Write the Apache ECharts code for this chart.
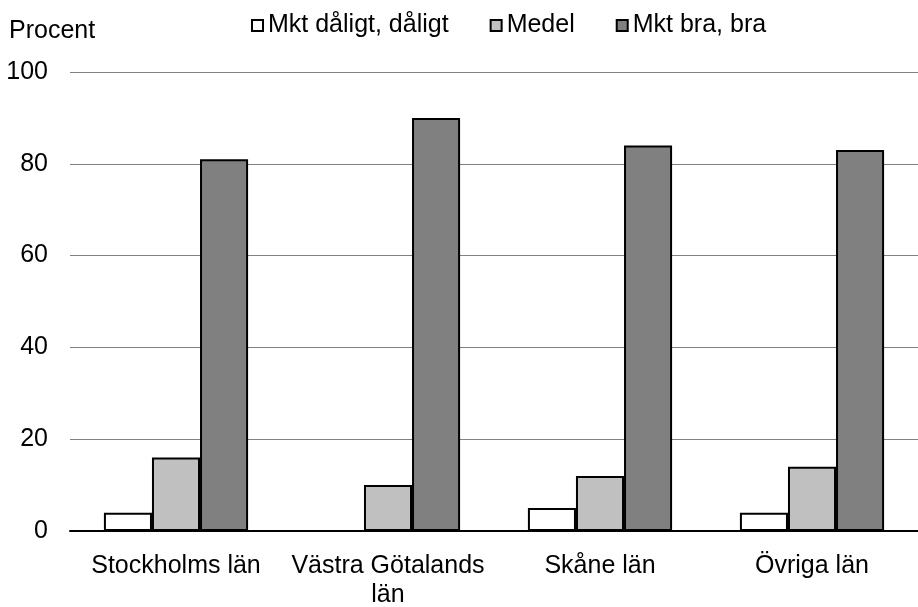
<!DOCTYPE html>
<html>
<head>
<meta charset="utf-8">
<script src="https://cdn.jsdelivr.net/npm/echarts@6/dist/echarts.min.js"></script>
<style>html,body{margin:0;padding:0;background:#fff;}#c{width:918px;height:607px;}</style>
</head>
<body>
<div id="c"></div>
<script>
var categories = ['Stockholms län', 'Västra Götalands län', 'Skåne län', 'Övriga län'];
var seriesNames = ['Mkt dåligt, dåligt', 'Medel', 'Mkt bra, bra'];
var daligt = [4, 0, 5, 4];
var medel = [16, 10, 12, 14];
var bra = [81, 90, 84, 83];
var yTicks = [0, 20, 40, 60, 80, 100];

var FONT = 'Liberation Sans, Arial, sans-serif';
var colors = ['#ffffff', '#c0c0c0', '#808080'];
var values = [daligt, medel, bra];

var chart = echarts.init(document.getElementById('c'), null, {renderer: 'canvas'});
chart.setOption({
  animation: false,
  backgroundColor: '#ffffff',
  title: {
    text: 'Procent', left: 4, top: 14,
    textStyle: {fontFamily: FONT, fontSize: 25, fontWeight: 'normal', color: '#000'}
  },
  legend: {
    left: 246, top: 8,
    itemWidth: 11, itemHeight: 11, itemGap: 41,
    icon: 'rect',
    textStyle: {fontFamily: FONT, fontSize: 25, color: '#000'},
    data: seriesNames
  },
  grid: {left: 70, right: 0, top: 72, bottom: 76, containLabel: false, outerBoundsMode: 'none'},
  xAxis: {
    type: 'category', data: categories,
    axisLine: {lineStyle: {color: '#000', width: 2}},
    axisTick: {show: false},
    axisLabel: {
      fontFamily: FONT, fontSize: 25, color: '#000', margin: 21,
      lineHeight: 29, interval: 0,
      formatter: function (v) {
        return v.length > 16 ? v.replace(/ (\S+)$/, '\n$1') : v;
      }
    }
  },
  yAxis: {
    type: 'value', min: yTicks[0], max: yTicks[yTicks.length - 1], interval: 20,
    axisLine: {show: false}, axisTick: {show: false},
    splitLine: {lineStyle: {color: '#808080', width: 1}},
    axisLabel: {fontFamily: FONT, fontSize: 25, color: '#000', margin: 22}
  },
  series: seriesNames.map(function (n, i) {
    return {
      name: n, type: 'bar', data: values[i],
      barGap: '0%', barCategoryGap: '32%',
      itemStyle: {color: colors[i], borderColor: '#000', borderWidth: 2}
    };
  })
});
</script>
</body>
</html>
